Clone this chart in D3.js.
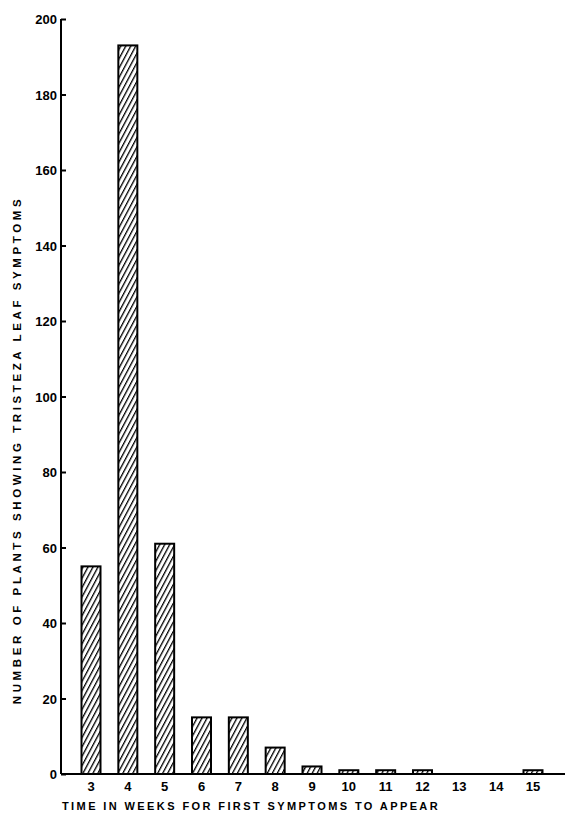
<!DOCTYPE html>
<html><head><meta charset="utf-8">
<script src="https://cdn.jsdelivr.net/npm/d3@7"></script>
<style>body{margin:0;background:#fff}svg{display:block}</style>
</head><body>
<script>
const weeks = [3,4,5,6,7,8,9,10,11,12,13,14,15];
const plants = [55,193,61,15,15,7,2,1,1,1,0,0,1];
const yTicks = [0,20,40,60,80,100,120,140,160,180,200];
const xTitle = "TIME IN WEEKS FOR FIRST SYMPTOMS TO APPEAR";
const yTitle = "NUMBER OF PLANTS SHOWING TRISTEZA LEAF SYMPTOMS";

const W=565,H=832;
const svg=d3.select("body").append("svg").attr("width",W).attr("height",H);
const defs=svg.append("defs");
const pat=defs.append("pattern").attr("id","hatch").attr("patternUnits","userSpaceOnUse")
  .attr("width",4.4).attr("height",4.4).attr("patternTransform","rotate(28)");
pat.append("rect").attr("width",4.4).attr("height",4.4).attr("fill","#fff");
pat.append("line").attr("x1",0).attr("y1",0).attr("x2",0).attr("y2",4.4).attr("stroke","#000").attr("stroke-width",2.6);

const x=d3.scaleLinear().domain([3,15]).range([91,533]);
const y=d3.scaleLinear().domain([0,200]).range([774,19]);
const bw=19;

svg.append("g").selectAll("rect").data(weeks.map((w,i)=>({w,v:plants[i]})).filter(d=>d.v>0))
 .join("rect").attr("x",d=>x(d.w)-bw/2).attr("y",d=>y(d.v)).attr("width",bw).attr("height",d=>y(0)-y(d.v))
 .attr("fill","url(#hatch)").attr("stroke","#000").attr("stroke-width",2);

// y axis
const ya=svg.append("g").attr("transform","translate(61,0)")
 .call(d3.axisRight(y).tickValues(yTicks).tickSize(5).tickFormat(""));
ya.select(".domain").attr("stroke-width",2).attr("d","M0,19V774");
ya.selectAll(".tick line").attr("stroke-width",2);
svg.append("g").selectAll("text").data(yTicks).join("text")
 .attr("x",57).attr("y",d=>y(d)+5).attr("text-anchor","end")
 .attr("font-family","Liberation Sans, Arial, sans-serif").attr("font-weight","bold").attr("font-size",13)
 .text(d=>d);

// x axis
const xa=svg.append("g").attr("transform","translate(0,774)")
 .call(d3.axisBottom(x).tickValues(weeks).tickSize(0).tickPadding(0).tickFormat(""));
xa.select(".domain").attr("stroke-width",2).attr("d","M61,0H566");
svg.append("g").selectAll("text").data(weeks).join("text")
 .attr("x",d=>x(d)).attr("y",791).attr("text-anchor","middle")
 .attr("font-family","Liberation Sans, Arial, sans-serif").attr("font-weight","bold").attr("font-size",13)
 .text(d=>d);

svg.append("text").attr("x",62).attr("y",810)
 .attr("font-family","Liberation Sans, Arial, sans-serif").attr("font-weight","bold").attr("font-size",11)
 .attr("letter-spacing","2.4").text(xTitle);
svg.append("text").attr("transform","translate(21,450) rotate(-90)").attr("text-anchor","middle")
 .attr("font-family","Liberation Sans, Arial, sans-serif").attr("font-weight","bold").attr("font-size",11.5)
 .attr("letter-spacing","3.6").text(yTitle);
</script>
</body></html>
